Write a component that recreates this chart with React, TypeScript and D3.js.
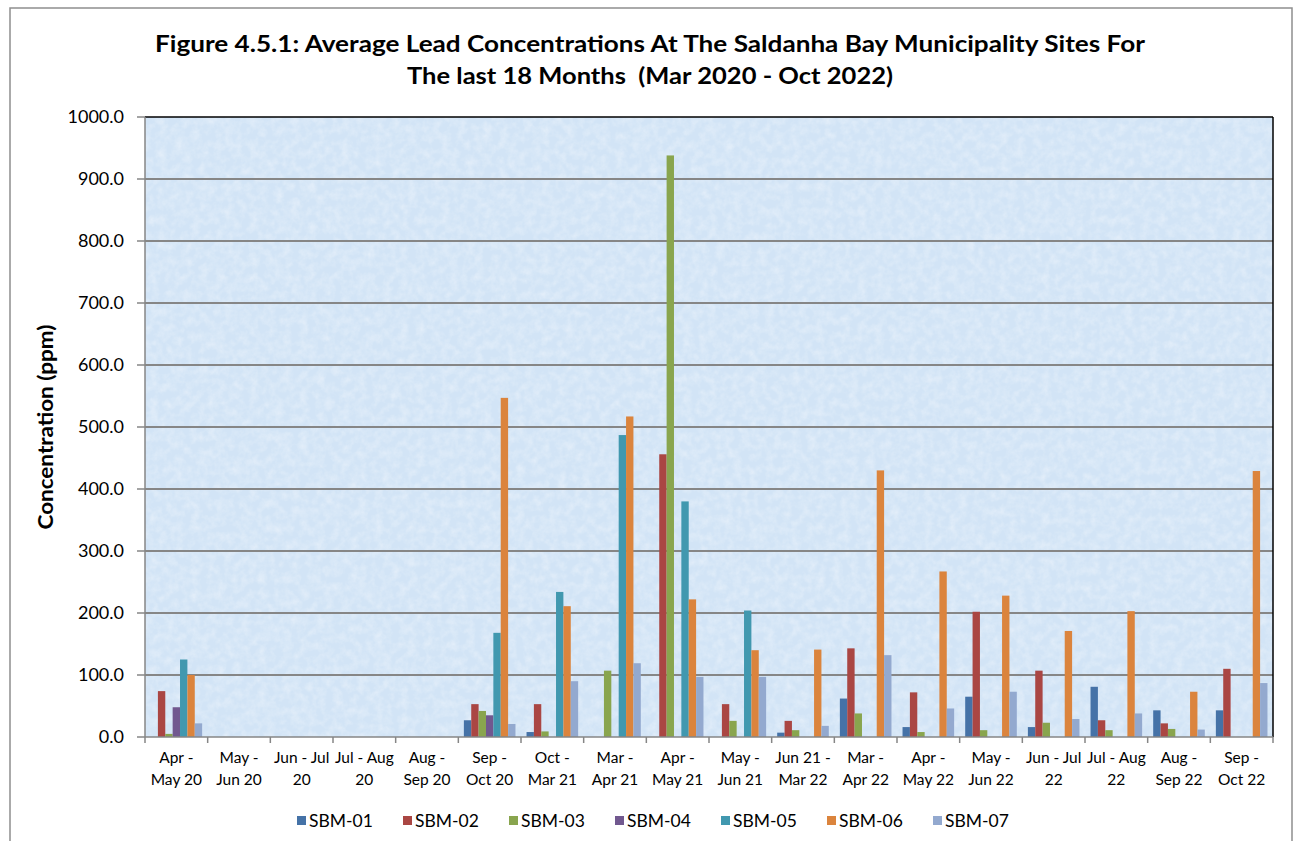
import React from "react";
import * as d3 from "d3";

const categories: string[] = [
  "Apr -|May 20", "May -|Jun 20", "Jun - Jul|20", "Jul - Aug|20", "Aug -|Sep 20", "Sep -|Oct 20",
  "Oct -|Mar 21", "Mar -|Apr 21", "Apr -|May 21", "May -|Jun 21", "Jun 21 -|Mar 22", "Mar -|Apr 22",
  "Apr -|May 22", "May -|Jun 22", "Jun - Jul|22", "Jul - Aug|22", "Aug -|Sep 22", "Sep -|Oct 22",
];

const seriesNames: string[] = ["SBM-01", "SBM-02", "SBM-03", "SBM-04", "SBM-05", "SBM-06", "SBM-07"];
const seriesColors: string[] = ["#4572A7", "#AA4643", "#89A54E", "#71588F", "#4198AF", "#DB843D", "#93A9CF"];

type V = number | null;
const sbm01: V[] = [null, null, null, null, null, 27, 8, null, null, null, 7, 62, 16, 65, 16, 81, 43, 43];
const sbm02: V[] = [74, null, null, null, null, 53, 53, null, 456, 53, 26, 143, 72, 202, 107, 27, 22, 110];
const sbm03: V[] = [5, null, null, null, null, 42, 9, 107, 938, 26, 11, 38, 8, 11, 23, 11, 13, null];
const sbm04: V[] = [48, null, null, null, null, 35, null, null, null, null, null, null, null, null, null, null, null, null];
const sbm05: V[] = [125, null, null, null, null, 168, 234, 487, 380, 204, null, null, null, null, null, null, null, null];
const sbm06: V[] = [100, null, null, null, null, 547, 211, 517, 222, 140, 141, 430, 267, 228, 171, 203, 73, 429];
const sbm07: V[] = [22, null, null, null, null, 21, 90, 119, 97, 97, 18, 132, 46, 73, 29, 38, 12, 87];
const seriesValues: V[][] = [sbm01, sbm02, sbm03, sbm04, sbm05, sbm06, sbm07];

const yTicks: number[] = [0, 100, 200, 300, 400, 500, 600, 700, 800, 900, 1000];

const titleLine1 = "Figure 4.5.1: Average Lead Concentrations At The Saldanha Bay Municipality Sites For";
const titleLine2 = "The last 18 Months \u00a0(Mar 2020 - Oct 2022)";
const yTitle = "Concentration (ppm)";

export default function App() {
  const W = 1297, H = 841;
  const left = 145, right = 1273, top = 117, bottom = 737;
  const font = "Lato, 'Open Sans', sans-serif";

  const x = d3.scaleBand<string>().domain(categories).range([left, right])
    .paddingInner(1.5 / 8.5).paddingOuter(0.75 / 8.5);
  const xs = d3.scaleBand<string>().domain(seriesNames).range([0, x.bandwidth()]).padding(0);
  const y = d3.scaleLinear().domain([0, 1000]).range([bottom, top]);
  const step = x.step();

  return (
    <svg width={W} height={H} style={{ position: "absolute", left: 0, top: 0, background: "#fff" }}>
      <defs>
        <filter id="tex" x="0" y="0" width="100%" height="100%">
          <feTurbulence type="fractalNoise" baseFrequency="0.12" numOctaves="3" seed="4" result="n" />
          <feColorMatrix in="n" type="matrix"
            values="0 0 0 0 1  0 0 0 0 1  0 0 0 0 1  1.4 0 0 0 -0.5" />
        </filter>
      </defs>
      <rect x={10} y={8} width={1282} height={H + 20} fill="#fff" stroke="#8e8e8e" strokeWidth={1.5} />
      <text x={650} y={52} textAnchor="middle" fontFamily={font} fontWeight="bold" fontSize={22}
        textLength={990} lengthAdjust="spacingAndGlyphs" fill="#000">{titleLine1}</text>
      <text x={650} y={84} textAnchor="middle" fontFamily={font} fontWeight="bold" fontSize={22}
        textLength={486} lengthAdjust="spacingAndGlyphs" fill="#000">{titleLine2}</text>

      <rect x={left} y={top} width={right - left} height={bottom - top} fill="#d2e4f6" />
      <rect x={left} y={top} width={right - left} height={bottom - top} filter="url(#tex)" opacity={0.45} />

      {yTicks.filter(t => t > 0 && t < 1000).map(t => (
        <line key={"g" + t} x1={left} x2={right} y1={y(t)} y2={y(t)} stroke="#868686" strokeWidth={2} />
      ))}

      {seriesValues.map((vals, si) => vals.map((v, ci) => v == null ? null : (
        <rect key={si + "-" + ci}
          x={(x(categories[ci]) as number) + (xs(seriesNames[si]) as number)}
          y={y(v)} width={xs.bandwidth()} height={bottom - y(v)} fill={seriesColors[si]} />
      )))}

      <line x1={left} x2={right} y1={top} y2={top} stroke="#000" strokeWidth={1.5} />
      <line x1={right} x2={right} y1={top} y2={bottom} stroke="#000" strokeWidth={1.5} />
      <line x1={left} x2={left} y1={top} y2={bottom} stroke="#868686" strokeWidth={1.5} />
      <line x1={left} x2={right} y1={bottom} y2={bottom} stroke="#868686" strokeWidth={1.5} />

      {yTicks.map(t => (
        <g key={"yt" + t}>
          <line x1={left - 8} x2={left} y1={y(t)} y2={y(t)} stroke="#868686" strokeWidth={1.5} />
          <text x={left - 21} y={y(t)} dy="0.35em" textAnchor="end" fontFamily={font} fontSize={18} fill="#000">
            {t.toFixed(1)}
          </text>
        </g>
      ))}

      {d3.range(categories.length + 1).map(i => (
        <line key={"xt" + i} x1={left + i * step} x2={left + i * step} y1={bottom} y2={bottom + 6}
          stroke="#868686" strokeWidth={1.5} />
      ))}
      {categories.map(c => {
        const cx = (x(c) as number) + x.bandwidth() / 2;
        const parts = c.split("|");
        return (
          <text key={"xl" + c} x={cx} textAnchor="middle" fontFamily={font} fontSize={15.5} fill="#000">
            <tspan x={cx} y={763}>{parts[0]}</tspan>
            <tspan x={cx} y={785}>{parts[1]}</tspan>
          </text>
        );
      })}

      <text transform={`translate(53,427) rotate(-90)`} textAnchor="middle" fontFamily={font}
        fontWeight="bold" fontSize={20} textLength={205} lengthAdjust="spacingAndGlyphs" fill="#000">{yTitle}</text>

      {seriesNames.map((s, i) => {
        const lx = 297 + i * 106;
        return (
          <g key={"lg" + s}>
            <rect x={lx} y={816} width={9} height={9} fill={seriesColors[i]} />
            <text x={lx + 12} y={821} dy="0.35em" fontFamily={font} fontSize={17.5} fill="#000">{s}</text>
          </g>
        );
      })}
    </svg>
  );
}
